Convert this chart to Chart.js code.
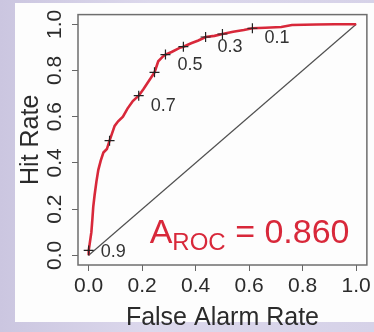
<!DOCTYPE html>
<html>
<head>
<meta charset="utf-8">
<script src="https://cdn.jsdelivr.net/npm/chart.js@4/dist/chart.umd.min.js"></script>
<style>
  body { margin: 0; background: linear-gradient(90deg, #cbc6e0, #dcd8ec 40%, #d6d2e8); width: 374px; height: 332px; overflow: hidden; }
  .panel { position: absolute; left: 15px; top: 3px; width: 359px; height: 319px; background: #fdfdfd; }
  #wrap { position: absolute; left: 0; top: 0; width: 374px; height: 332px; }
</style>
</head>
<body>
<div class="panel"></div>
<div id="wrap"><canvas id="roc"></canvas></div>
<script>
// ROC curve (false alarm rate, hit rate)
var rocFar = [0, 0.0, 0.005, 0.01, 0.014, 0.017, 0.022, 0.029, 0.036, 0.045, 0.055, 0.068, 0.078, 0.088, 0.097, 0.11, 0.128, 0.145, 0.165, 0.187, 0.205, 0.221, 0.246, 0.26, 0.275, 0.287, 0.31, 0.34, 0.354, 0.383, 0.41, 0.437, 0.47, 0.5, 0.54, 0.58, 0.612, 0.66, 0.72, 0.76, 0.85, 0.92, 1.0];
var rocHit = [0, 0.02, 0.06, 0.10, 0.16, 0.21, 0.26, 0.32, 0.37, 0.41, 0.445, 0.46, 0.496, 0.53, 0.56, 0.58, 0.60, 0.635, 0.668, 0.691, 0.72, 0.748, 0.792, 0.84, 0.858, 0.869, 0.88, 0.898, 0.903, 0.918, 0.93, 0.945, 0.95, 0.958, 0.968, 0.975, 0.983, 0.985, 0.988, 0.997, 0.999, 1.0, 1.0];

// threshold points marked with crosses
var thrFar = [0.0, 0.078, 0.187, 0.246, 0.287, 0.354, 0.437, 0.5, 0.612];
var thrHit = [0.021, 0.496, 0.691, 0.792, 0.869, 0.903, 0.945, 0.958, 0.983];
var thrLabels = ['0.9', '', '0.7', '', '0.5', '', '0.3', '', '0.1'];

var diagX = [0, 1];
var diagY = [0, 1];
var tickVals = [0, 0.2, 0.4, 0.6, 0.8, 1.0];
var aRoc = '0.860';

function toPoints(xs, ys){
    var out = [];
    for (var i = 0; i < xs.length; i++) out.push({x: xs[i], y: ys[i]});
    return out;
}

var FONT = '"Liberation Sans", Arial, sans-serif';
var INK = '#2b2b2b';
var RED = '#d8283a';

// box round the plot, threshold labels and the area text
var extras = {
    id: 'extras',
    afterDatasetsDraw: function(chart){
        var ctx = chart.ctx, a = chart.chartArea;
        var sx = chart.scales.x, sy = chart.scales.y;
        ctx.save();
        ctx.strokeStyle = '#6e6e6e';
        ctx.lineWidth = 1.5;
        ctx.strokeRect(a.left, a.top, a.right - a.left, a.bottom - a.top);

        var pts = chart.getDatasetMeta(2).data;
        ctx.fillStyle = '#333';
        ctx.font = '18px ' + FONT;
        ctx.textAlign = 'left';
        ctx.textBaseline = 'middle';
        for (var i = 0; i < thrLabels.length; i++) {
            if (!thrLabels[i]) continue;
            var dy = i === 0 ? 2 : 10;
            ctx.fillText(thrLabels[i], pts[i].x + 12, pts[i].y + dy);
        }

        var x = sx.getPixelForValue(0.228), y = sy.getPixelForValue(0.055);
        ctx.fillStyle = RED;
        ctx.textBaseline = 'alphabetic';
        ctx.font = '34px ' + FONT;
        ctx.fillText('A', x, y);
        x += ctx.measureText('A').width;
        ctx.font = '24px ' + FONT;
        ctx.fillText('ROC', x, y + 7);
        x += ctx.measureText('ROC').width;
        ctx.font = '34px ' + FONT;
        ctx.fillText(' = ' + aRoc, x, y);
        ctx.restore();
    }
};

function fixTicks(scale){
    scale.ticks = tickVals.map(function(v){ return {value: v}; });
}

var ctx = document.getElementById('roc').getContext('2d');
window.rocChart = new Chart(ctx, {
    type: 'scatter',
    data: {
        datasets: [
            { data: toPoints(diagX, diagY), showLine: true, borderColor: '#505050', borderWidth: 1.2, pointRadius: 0, order: 3 },
            { data: toPoints(rocFar, rocHit), showLine: true, borderColor: RED, borderWidth: 2.6, pointRadius: 0, tension: 0, order: 2 },
            { data: toPoints(thrFar, thrHit), showLine: false, pointStyle: 'cross', pointRadius: 5, borderColor: '#222', borderWidth: 1.2, order: 1 }
        ]
    },
    options: {
        maintainAspectRatio: false, responsive: true, animation: false,
        layout: { padding: { top: 9, right: 6, left: 0, bottom: 0 } },
        plugins: { legend: { display: false }, tooltip: { enabled: false } },
        scales: {
            x: {
                type: 'linear', min: -0.04, max: 1.04,
                afterBuildTicks: fixTicks,
                afterFit: function(s){ s.height = 67; },
                grid: { drawOnChartArea: false, drawTicks: true, tickLength: 6, color: '#666' },
                border: { display: false },
                ticks: { autoSkip: false, padding: 3, color: INK, font: { family: FONT, size: 21 }, callback: function(v){ return v.toFixed(1); } },
                title: { display: true, text: 'False Alarm Rate', color: INK, font: { family: FONT, size: 25 }, padding: { top: 0, bottom: -1 } }
            },
            y: {
                type: 'linear', min: -0.042, max: 1.042,
                afterBuildTicks: fixTicks,
                afterFit: function(s){ s.width = 78; },
                grid: { drawOnChartArea: false, drawTicks: true, tickLength: 6, color: '#666' },
                border: { display: false },
                ticks: { autoSkip: false, minRotation: 90, maxRotation: 90, crossAlign: 'center', padding: 2, color: INK, font: { family: FONT, size: 21 }, callback: function(v){ return v.toFixed(1); } },
                title: { display: true, text: 'Hit Rate', color: INK, font: { family: FONT, size: 25 }, padding: { top: 16, bottom: 0 } }
            }
        }
    },
    plugins: [extras]
});
</script>
</body>
</html>
